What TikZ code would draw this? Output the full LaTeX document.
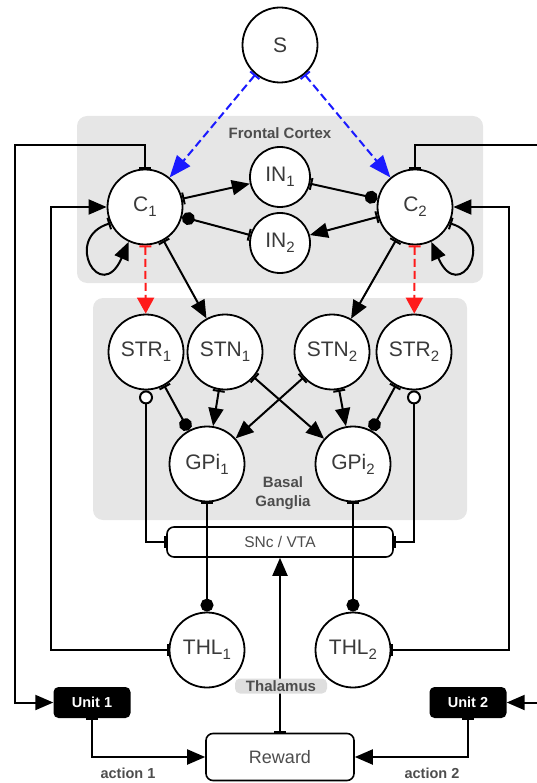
\documentclass[tikz,border=0pt]{standalone}
\usepackage{fontspec}
\setmainfont{Liberation Sans}
\usepackage{tikz}
\usetikzlibrary{arrows.meta,calc}
\definecolor{RegionGray}{HTML}{E6E6E6}
\definecolor{TagGray}{HTML}{DEDEDE}
\definecolor{InkGray}{HTML}{3A3A3A}
\definecolor{NoteGray}{HTML}{4D4D4D}
\definecolor{CueBlue}{HTML}{1A1AFF}
\definecolor{CueRed}{HTML}{FF1A1A}
\newcommand{\idx}[1]{\raisebox{-0.45ex}{\fontsize{15}{15}\selectfont #1}}

\begin{document}
\begin{tikzpicture}[x=1pt,y=-1pt,
    cell/.style={circle,draw,line width=1.8pt,fill=white,minimum size=75pt,inner sep=0pt,
      text=InkGray,font=\fontsize{21}{21}\selectfont},
    wire/.style={line width=2pt},
    exc/.style={wire,{Bar[width=12pt]}-{Triangle[length=18pt,width=15pt]}},
    inh/.style={wire,{Bar[width=12pt]}-{Circle[length=13pt]}},
    feed/.style={wire,{Bar[width=12pt]}-{Circle[open,fill=white,length=14pt]}},
    cue/.style={wire,dash pattern=on 8pt off 4pt,{Bar[width=12pt]}-{Triangle[length=#1,width=17pt]}},
    board/.style={draw,line width=1.6pt,rounded corners=7pt,fill=white,text=NoteGray},
    unit/.style={fill=black,rounded corners=5pt,minimum width=77pt,minimum height=31pt,
      text=white,font=\bfseries\fontsize{14.5}{14.5}\selectfont},
    note/.style={text=NoteGray,font=\bfseries\fontsize{15}{19}\selectfont,align=center}]
    \useasboundingbox (0,0) rectangle (536,783);

    % shaded areas
    \fill[RegionGray,rounded corners=10pt] (77,116) rectangle (483,283);
    \fill[RegionGray,rounded corners=10pt] (93,298) rectangle (467,520);
    \node[note] (fcText) at (280,133) {Frontal Cortex};
    \node[note] (bgText) at (283,493) {Basal\\Ganglia};

    % neurons
    \foreach \name/\pos/\lbl in {S/{280,45}/S,C1/{145,207}/C\idx{1},C2/{415,207}/C\idx{2},
        STR1/{146,352}/STR\idx{1},STN1/{225,352}/STN\idx{1},
        STN2/{332,352}/STN\idx{2},STR2/{414,352}/STR\idx{2},
        GPi1/{207,464}/GPi\idx{1},GPi2/{353,464}/GPi\idx{2},
        THL1/{207,650}/THL\idx{1},THL2/{353,650}/THL\idx{2}} {
     \node[cell] (\name) at (\pos) {\lbl};
    }
    \foreach \name/\pos/\lbl in {IN1/{280,177}/IN\idx{1},IN2/{280,243}/IN\idx{2}} {
     \node[cell,minimum size=60pt] (\name) at (\pos) {\lbl};
    }

    \node[board,minimum width=226pt,minimum height=30pt,font=\fontsize{15.5}{15.5}\selectfont]
      (SNc) at (280,542) {SNc / VTA};
    \node[board,minimum width=148pt,minimum height=47pt,font=\fontsize{18}{18}\selectfont]
      (Reward) at (280,757) {Reward};
    \node[unit] (Unit1) at (92,702.5) {Unit 1};
    \node[unit] (Unit2) at (468,702.5) {Unit 2};

    \coordinate (railL) at (15,145);
    \coordinate (railR) at (545,145);

    % stimulus and cortex
    \draw[cue=22pt,CueBlue] (S) -- (C1);
    \draw[cue=22pt,CueBlue] (S) -- (C2);
    \draw[exc] (C1) -- (IN1);
    \draw[inh] (IN2) -- (C1);
    \draw[exc] (C2) -- (IN2);
    \draw[inh] (IN1) -- (C2);
    \draw[exc] (C1.205) .. controls +(-48,15) and +(-28,64) .. (C1.245);
    \draw[exc] (C2.-25) .. controls +(48,15) and +(28,64) .. (C2.-65);

    % cortex to basal ganglia
    \draw[cue=16pt,CueRed] (C1) -- (STR1);
    \draw[cue=16pt,CueRed] (C2) -- (STR2);
    \draw[exc] (C1) -- (STN1);
    \draw[exc] (C2) -- (STN2);
    \draw[inh] (STR1) -- (GPi1);
    \draw[inh] (STR2) -- (GPi2);
    \foreach \a/\b in {STN1/GPi1,STN1/GPi2,STN2/GPi1,STN2/GPi2} {
     \draw[exc] (\a) -- (\b);
    }

    % dopamine
    \draw[feed] (SNc.west) -| (STR1.south);
    \draw[feed] (SNc.east) -| (STR2.south);
    \draw[exc] (Reward) -- (SNc);

    % thalamus
    \draw[inh] (GPi1) -- (THL1);
    \draw[inh] (GPi2) -- (THL2);
    \draw[exc] (THL1.west) -| ([xshift=-56pt]C1.west) -- (C1.west);
    \draw[exc] (THL2.east) -| ([xshift=56pt]C2.east) -- (C2.east);
    \node[note,fill=TagGray,rounded corners=5pt,inner sep=2pt,minimum width=92pt] (thal)
      at (281,686) {Thalamus};

    % actions
    \draw[exc] (C1.north) |- (railL) |- (Unit1.west);
    \draw[exc] (C2.north) |- (railR) |- (Unit2.east);
    \draw[exc] (Unit1.south) |- (Reward.west);
    \draw[exc] (Unit2.south) |- (Reward.east);
    \node[note,font=\bfseries\fontsize{14.5}{14.5}\selectfont] (act1) at (128,773) {action 1};
    \node[note,font=\bfseries\fontsize{14.5}{14.5}\selectfont] (act2) at (432,773) {action 2};
   \end{tikzpicture}
\end{document}
